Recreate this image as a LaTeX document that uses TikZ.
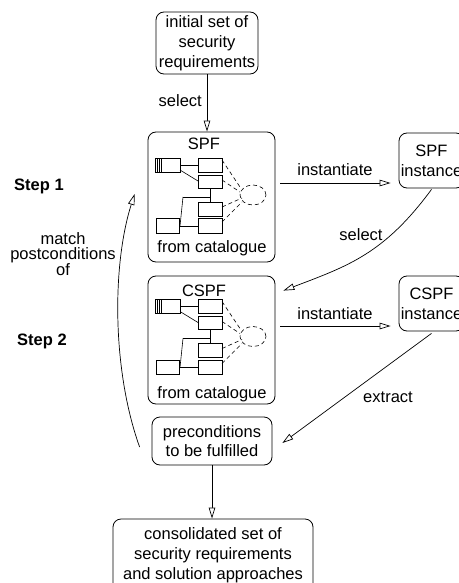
\documentclass[tikz,border=0pt]{standalone}
\usepackage{fontspec}
\setmainfont{Liberation Sans}
\usetikzlibrary{arrows.meta}
\newcommand\patterndiagram{%
 \draw[part] (155,158) rectangle (180,172);
 \draw[part] (157,158) -- (157,172) (159,158) -- (159,172) (161,158) -- (161,172);
 \draw[part] (198,158) rectangle (222,172);
 \draw[part] (198,175) rectangle (222,188);
 \draw[part] (198,202) rectangle (222,216);
 \draw[part] (198,218.5) rectangle (222,233);
 \draw[part] (156,218.5) rectangle (179,233);
 \draw[part] (180,165) -- (198,165);
 \draw[part] (180,170) -- (198,181);
 \draw[part] (210,188) -- (210,202);
 \draw[part] (183,197) -- (210,197);
 \draw[part] (183,197) -- (180,226);
 \draw[part] (179,226) -- (198,226);
 \draw[dsh] (253,195) ellipse [x radius=13pt, y radius=10pt];
 \draw[dsh] (222,160) -- (240,187) (222,180) -- (240,192) (222,207) -- (242,198) (222,222) -- (242,202);
}
\begin{document}
\begin{tikzpicture}[x=1pt,y=-1pt,
  every node/.style={font=\fontsize{16.5}{20}\selectfont, inner sep=0pt},
  box/.style={draw, line width=0.8pt, rounded corners=8pt, align=center},
  arr/.style={line width=0.7pt, -{Triangle[open,length=11pt,width=6.5pt,fill=white]}},
  part/.style={draw, line width=0.6pt},
  dsh/.style={line width=0.6pt, dash pattern=on 4pt off 3pt},
]
\useasboundingbox (0,0) rectangle (458,583);
% boxes
\node[box, minimum width=102pt, minimum height=62pt] (init) at (207,43) {initial set of\\security\\requirements};
\node[box, minimum width=127pt, minimum height=130pt] (spf) at (211.5,197) {};
\node (spft) at (204,144) {SPF};
\node (spfc) at (212,248) {from catalogue};
\node[box, minimum width=65pt, minimum height=55pt] (spfi) at (431.5,160.5) {SPF\\instance};
\node[box, minimum width=127pt, minimum height=128pt] (cspf) at (211.5,340) {};
\node (cspft) at (204,291) {CSPF};
\node (cspfc) at (212,394) {from catalogue};
\node[box, minimum width=65pt, minimum height=55pt] (cspfi) at (431.5,303.5) {CSPF\\instance};
\node[box, minimum width=120pt, minimum height=48pt, font=\fontsize{16.5}{18.5}\selectfont] (pre) at (212,441) {preconditions\\to be fulfilled};
\node[box, minimum width=200pt, minimum height=72pt] (cons) at (213,555) {consolidated set of\\security requirements\\and solution approaches};
% inner diagrams
\patterndiagram
\begin{scope}[shift={(0,141.5)}]
\patterndiagram
\end{scope}
% labels
\node[anchor=east] (sel1) at (202,101) {select};
\node (inst1) at (335,170) {instantiate};
\node (sel2) at (361,235) {select};
\node (inst2) at (335,314) {instantiate};
\node (extr) at (388,397) {extract};
\node[font=\fontsize{16.5}{20}\selectfont\bfseries, anchor=west] (st1) at (14,186) {Step 1};
\node[font=\fontsize{16.5}{20}\selectfont\bfseries, anchor=west] (st2) at (17,341) {Step 2};
\node[align=center, font=\fontsize{16.5}{15}\selectfont] (match) at (63,254) {match\\postconditions\\of};
% connectors
\draw[arr] (init.south) -- (init.south |- spf.north);
\draw[arr] ([shift={(5,-14)}]spf.east) -- ([shift={(-8,22.5)}]spfi.west);
\draw[arr] ([shift={(0,1)}]spfi.south) .. controls (384,254) and (348,266) .. ([shift={(8,15)}]cspf.north east);
\draw[arr] ([shift={(5,-14)}]cspf.east) -- ([shift={(-8,22.5)}]cspfi.west);
\draw[arr] ([shift={(0,2)}]cspfi.south) -- ([shift={(10,2)}]pre.east);
\draw[arr] (pre.south) -- (pre.south |- cons.north);
\draw[arr] ([shift={(-12,6)}]pre.west) .. controls (112,370) and (112,265) .. ([shift={(-13,-3)}]spf.west);
\end{tikzpicture}
\end{document}
